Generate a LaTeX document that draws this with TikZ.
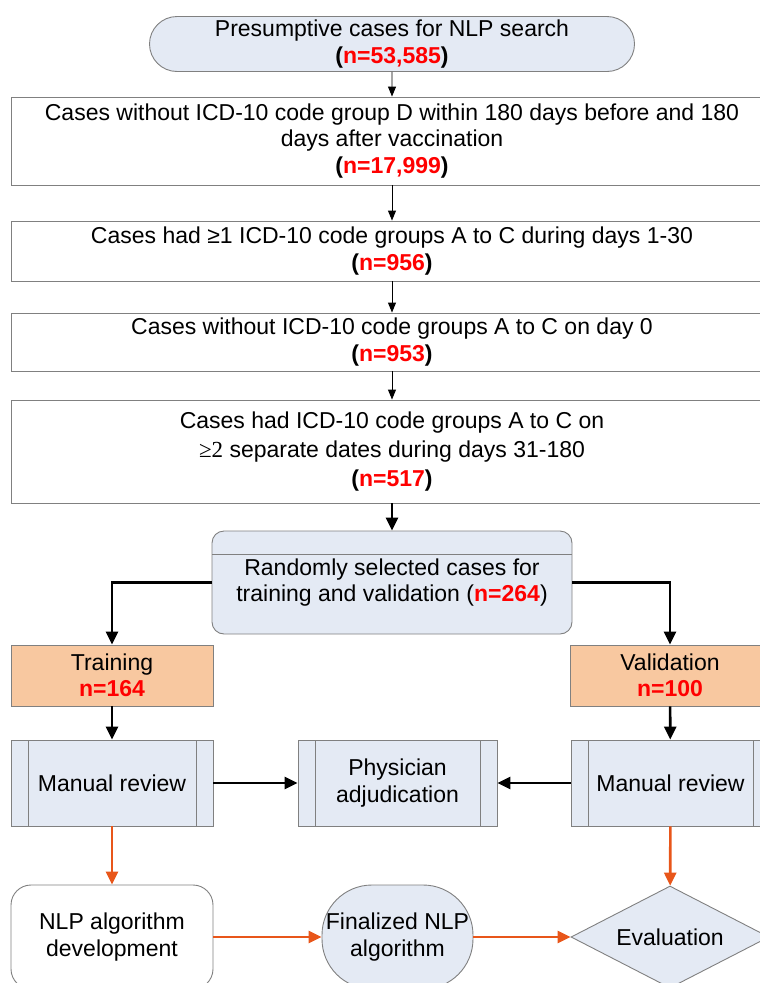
\documentclass[tikz,border=0pt]{standalone}
\usepackage{fontspec}
\setmainfont{Liberation Sans}
\newfontfamily\timesfont{Liberation Serif}
\usetikzlibrary{arrows.meta,shapes.misc,shapes.geometric}
\definecolor{boxblue}{HTML}{E4EAF4}
\definecolor{boxorange}{HTML}{F8C8A0}
\definecolor{boxline}{HTML}{808080}
\definecolor{nlporange}{HTML}{E8561A}
\newcommand{\nred}[1]{\textcolor{red}{#1}}

\begin{document}
\begin{tikzpicture}[x=1pt, y=-1pt, font=\fontsize{23}{26.5}\selectfont,
		box/.style={draw=boxline, line width=0.9pt, align=center, inner sep=0pt},
		bluebox/.style={box, fill=boxblue},
		process/.style={bluebox, path picture={\draw[boxline, line width=0.9pt] ([xshift=17pt]path picture bounding box.north west) -- ([xshift=17pt]path picture bounding box.south west) ([xshift=-17pt]path picture bounding box.north east) -- ([xshift=-17pt]path picture bounding box.south east);}},
		arrow/.style={-{Triangle[length=10pt,width=8pt]}, line width=0.9pt},
		thickarrow/.style={-{Triangle[length=13pt,width=12pt]}, line width=2.6pt},
		nlparrow/.style={thickarrow, draw=nlporange, color=nlporange}]
			\useasboundingbox (0,0) rectangle (760,983);
			\clip (0,0) rectangle (760,983);
			% Define selection steps
			\node[bluebox, rounded rectangle, minimum width=485pt, minimum height=55pt] at (392, 44) (start) {Presumptive cases for NLP search\\ \textbf{(\nred{n=53,585})}};
			\node[box, minimum width=762pt, minimum height=88pt] at (392, 141) (no_D) {Cases without ICD-10 code group D within 180 days before and 180\\ days after vaccination\\ \textbf{(\nred{n=17,999})}};
			\node[box, minimum width=762pt, minimum height=60pt] at (392, 251) (ac_days) {Cases had ≥1 ICD-10 code groups A to C during days 1-30\\ \textbf{(\nred{n=956})}};
			\node[box, minimum width=762pt, minimum height=58pt] at (392, 342) (no_day0) {Cases without ICD-10 code groups A to C on day 0\\ \textbf{(\nred{n=953})}};
			\node[box, minimum width=762pt, minimum height=103pt, font=\fontsize{23}{29}\selectfont] at (392, 451.5) (ac_dates) {Cases had ICD-10 code groups A to C on\\ {\timesfont ≥2} separate dates during days 31-180\\ \textbf{(\nred{n=517})}};
			
			% Define sampling and review
			\node[bluebox, rounded corners=12pt, minimum width=360pt, minimum height=103pt, path picture={\draw[boxline, line width=0.9pt] ([yshift=-23pt]path picture bounding box.north west) -- ([yshift=-23pt]path picture bounding box.north east);}] at (392, 582.5) (rand) {Randomly selected cases for\\ training and validation (\textbf{\nred{n=264}})};
			\node[box, fill=boxorange, minimum width=202pt, minimum height=61pt] at (112, 675.5) (train) {Training\\ \textbf{\nred{n=164}}};
			\node[box, fill=boxorange, minimum width=200pt, minimum height=61pt] at (670, 675.5) (valid) {Validation\\ \textbf{\nred{n=100}}};
			\node[process, minimum width=202pt, minimum height=86pt] at (112, 783) (review_t) {Manual review};
			\node[process, minimum width=199pt, minimum height=86pt] at (397.5, 783) (physician) {Physician\\ adjudication};
			\node[process, minimum width=199pt, minimum height=86pt] at (670.5, 783) (review_v) {Manual review};
			
			% Define NLP steps
			\node[box, fill=white, rounded corners=20pt, minimum width=202pt, minimum height=104pt] at (112, 937) (nlp_dev) {NLP algorithm\\ development};
			\node[bluebox, rounded corners=50pt, minimum width=151pt, minimum height=104pt] at (397.5, 937) (nlp_final) {Finalized NLP\\ algorithm};
			\node[bluebox, diamond, aspect=2, minimum width=198pt, minimum height=102pt] at (670, 937) (evaluation) {Evaluation};
			
			% Draw arrows between steps
			\draw[arrow] (start) -- (no_D);
			\draw[arrow] (no_D) -- (ac_days);
			\draw[arrow] (ac_days) -- (no_day0);
			\draw[arrow] (no_day0) -- (ac_dates);
			\draw[thickarrow] (ac_dates) -- (rand);
			\draw[thickarrow] (rand.west) -| (train);
			\draw[thickarrow] (rand.east) -| (valid);
			\draw[thickarrow] (train) -- (review_t);
			\draw[thickarrow] (valid) -- (review_v);
			\draw[thickarrow] (review_t) -- (physician);
			\draw[thickarrow] (review_v) -- (physician);
			\draw[nlparrow] (review_t) -- (nlp_dev);
			\draw[nlparrow] (review_v) -- (evaluation);
			\draw[nlparrow] (nlp_dev) -- (nlp_final);
			\draw[nlparrow] (nlp_final) -- (evaluation);
		\end{tikzpicture}
\end{document}
